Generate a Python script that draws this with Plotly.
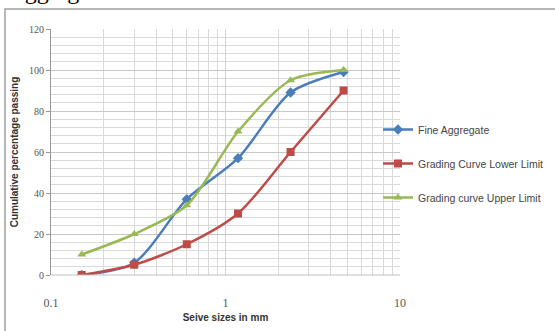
import plotly.graph_objects as go

sieve = [0.15, 0.3, 0.6, 1.18, 2.36, 4.75]
fine = [0, 6, 37, 57, 89, 99]
lower = [0, 5, 15, 30, 60, 90]
upper = [10, 20, 34, 70, 95, 100]
names = ["Fine Aggregate", "Grading Curve Lower Limit", "Grading curve Upper Limit"]
colors = ["#4A7EBB", "#BE4B48", "#98B954"]
symbols = ["diamond", "square", "triangle-up"]

fig = go.Figure()
for i, (name, vals, c, s) in enumerate(zip(names, [fine, lower, upper], colors, symbols)):
    fig.add_trace(go.Scatter(x=sieve, y=vals, name=name, mode="lines+markers", legendgroup=str(i),
                             line=dict(color=c, width=2.5, shape="spline", smoothing=0.8),
                             marker=dict(symbol=s, size=8, color=c)))

L, R, T, B = 51, 155, 29, 56
pw, ph = 555 - L - R, 331 - T - B
def px(x):
    return (x - L) / pw
def py(y):
    return (331 - B - y) / ph

fig.update_layout(
    width=555, height=331,
    margin=dict(l=L, r=R, t=T, b=B, autoexpand=False),
    paper_bgcolor="white", plot_bgcolor="white",
    font=dict(family="Liberation Serif", color="#555"),
    showlegend=True,
    legend=dict(x=px(378), y=py(115), xanchor="left", yanchor="top",
                font=dict(family="Liberation Sans Narrow, Liberation Sans", size=10.5, color="#444"),
                tracegroupgap=15, itemwidth=30, bgcolor="rgba(0,0,0,0)"),
    xaxis=dict(type="log", range=[-1, 1], tickvals=[0.1, 1, 10], ticktext=["0.1", "1", "10"],
               automargin=False,
               showgrid=True, gridcolor="#D0D0D0", gridwidth=1,
               minor=dict(dtick="D1", showgrid=True, gridcolor="#DADADA"),
               zeroline=False, showline=False, ticks="", ticklabelstandoff=19,
               tickfont=dict(size=12, color="#555"),
               title=dict(text="<b>Seive sizes in mm</b>", standoff=4,
                          font=dict(family="Liberation Sans Narrow, Liberation Sans", size=10, color="#333"))),
    yaxis=dict(range=[0, 120], dtick=20, showgrid=True, gridcolor="#C8C8C8",
               automargin=False,
               minor=dict(dtick=4, showgrid=True, gridcolor="#DADADA"),
               zeroline=False, showline=True, linecolor="#999", ticks="outside", ticklen=4,
               tickcolor="#999", tickfont=dict(size=10, color="#555"),
               title=dict(text="<b>Cumulative percentage passing</b>", standoff=8,
                          font=dict(family="Liberation Sans", size=10, color="#333"))),
    shapes=[
        dict(type="rect", xref="paper", yref="paper", x0=px(5), x1=px(560), y0=py(340), y1=py(9),
             line=dict(color="#A0A0A0", width=1.5), fillcolor="rgba(0,0,0,0)", layer="below"),
        dict(type="line", xref="paper", yref="paper", x0=0, x1=1, y0=0, y1=0,
             line=dict(color="#C0C0C0", width=1)),
    ],
    annotations=[
        dict(text="aggregate is as follows:", xref="paper", yref="paper", x=px(12), y=py(6),
             xanchor="left", yanchor="bottom", showarrow=False,
             font=dict(family="Liberation Serif", size=24, color="#000")),
    ],
)
fig.write_html("out.html", config={"displayModeBar": False},
               post_script="document.body.style.margin='0';document.body.style.overflow='hidden';")
